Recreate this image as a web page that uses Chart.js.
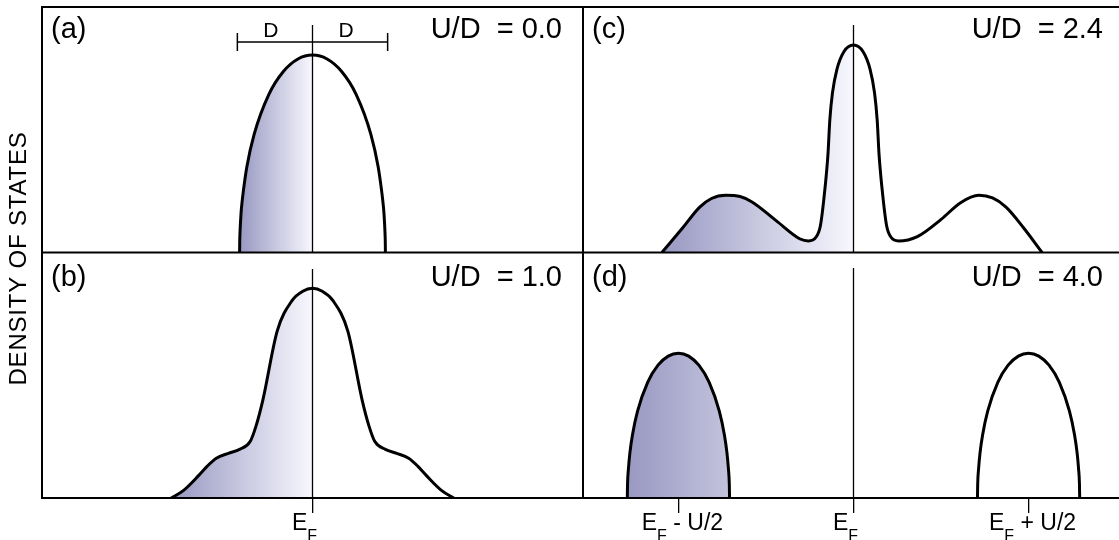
<!DOCTYPE html>
<html>
<head>
<meta charset="utf-8">
<title>Density of states</title>
<script src="https://cdn.jsdelivr.net/npm/chart.js@4.4.1/dist/chart.umd.min.js"></script>
<style>
  html, body { margin: 0; padding: 0; background: #fff; overflow: hidden; }
  #wrap { width: 1124px; height: 540px; }
</style>
</head>
<body>
<div id="wrap"><canvas id="dos" width="1124" height="540"></canvas></div>
<script>
// Energies in units of D measured from E_F, DOS in arbitrary units
const panelTags = ['(a)', '(b)', '(c)', '(d)'];
const ratioLabels = ['U/D  = 0.0', 'U/D  = 1.0', 'U/D  = 2.4', 'U/D  = 4.0'];

const energyA = [-0.97, -0.969, -0.965, -0.951, -0.941, -0.92, -0.873, -0.776, -0.582, -0.388, -0.194, 0,
                 0.194, 0.388, 0.582, 0.776, 0.873, 0.92, 0.941, 0.951, 0.965, 0.969, 0.97];
const dosA = [0, 0.36, 0.8, 1.6, 1.95, 2.51, 3.5, 4.82, 6.43, 7.37, 7.88, 8.04,
              7.88, 7.37, 6.43, 4.82, 3.5, 2.51, 1.95, 1.6, 0.8, 0.36, 0];

const energyB = [-1.88, -1.72, -1.52, -1.4, -1.28, -1.12, -0.97, -0.83, -0.75, -0.66, -0.47, -0.27, -0.13, 0,
                 0.13, 0.27, 0.47, 0.66, 0.75, 0.83, 0.97, 1.12, 1.28, 1.4, 1.52, 1.72, 1.88];
const dosB = [0, 0.3, 0.9, 1.3, 1.62, 1.82, 1.98, 2.3, 2.95, 4.0, 6.8, 8.05, 8.42, 8.54,
              8.42, 8.05, 6.8, 4.0, 2.95, 2.3, 1.98, 1.82, 1.62, 1.3, 0.9, 0.3, 0];

const energyC = [-2.55, -2.27, -2.05, -1.89, -1.70, -1.51, -1.35, -1.03, -0.71, -0.6, -0.5, -0.44, -0.38, -0.34, -0.315, -0.28, -0.22, -0.13, 0,
                 0.13, 0.22, 0.28, 0.315, 0.34, 0.38, 0.44, 0.5, 0.6, 0.85, 1.17, 1.42, 1.67, 1.85, 2.03, 2.26, 2.51];
const dosC = [0, 1.02, 1.84, 2.2, 2.33, 2.28, 2.06, 1.3, 0.55, 0.47, 0.62, 1.1, 2.6, 4.0, 5.4, 6.5, 7.47, 8.17, 8.45,
              8.17, 7.47, 6.5, 5.4, 4.0, 2.6, 1.1, 0.62, 0.47, 0.65, 1.36, 2.02, 2.33, 2.22, 1.85, 1.02, 0];

const energyDLower = [-3.01, -3.009, -3.007, -2.996, -2.976, -2.942, -2.874, -2.738, -2.602, -2.466, -2.33,
                      -2.194, -2.058, -1.922, -1.786, -1.718, -1.684, -1.664, -1.653, -1.651, -1.65];
const energyDUpper = [1.65, 1.651, 1.653, 1.664, 1.684, 1.718, 1.786, 1.922, 2.058, 2.194, 2.33,
                      2.466, 2.602, 2.738, 2.874, 2.942, 2.976, 2.996, 3.007, 3.009, 3.01];
const dosD = [0, 0.26, 0.59, 1.17, 1.84, 2.57, 3.54, 4.72, 5.41, 5.78, 5.9,
              5.78, 5.41, 4.72, 3.54, 2.57, 1.84, 1.17, 0.59, 0.26, 0];

// height of the E_F marker line in each panel
const fermiLineTop = [9.27, 9.33, 9.27, 9.37];

// bandwidth bracket in panel (a): from -D to +D
const bracketEnds = [-1, 1];
const bracketLevel = 8.57;
const bracketCap = [8.21, 8.94];

const tickValuesLeft = [0];
const tickLabelsLeft = [['E', 'F', '']];
const tickValuesRight = [-2.33, 0, 2.33];
const tickLabelsRight = [['E', 'F', ' - U/2'], ['E', 'F', ''], ['E', 'F', ' + U/2']];

const FONT = "'Liberation Sans', Arial, Helvetica, sans-serif";

const toPoints = (xs, ys) => xs.map((x, i) => ({ x: x, y: ys[i] }));

// shading runs from the band edge to E_F and stops there
function bandFill(chart, xId, edge) {
    const scale = chart.scales[xId];
    if (!scale || !chart.chartArea) return 'transparent';
    const x0 = scale.getPixelForValue(edge);
    const x1 = scale.getPixelForValue(0);
    const g = chart.ctx.createLinearGradient(x0, 0, x1, 0);
    g.addColorStop(0, '#9898c2');
    g.addColorStop(0.995, '#f7f7fe');
    g.addColorStop(1, 'rgba(255,255,255,0)');
    return g;
}

function curve(xs, ys, xId, yId, edge) {
    return {
        data: toPoints(xs, ys),
        xAxisID: xId,
        yAxisID: yId,
        borderColor: '#000',
        borderWidth: 3,
        borderJoinStyle: 'round',
        cubicInterpolationMode: 'monotone',
        fill: 'origin',
        backgroundColor: c => bandFill(c.chart, xId, edge),
        order: 1
    };
}

function thinLine(points, xId, yId, width) {
    return {
        data: points,
        xAxisID: xId,
        yAxisID: yId,
        borderColor: '#000',
        borderWidth: width,
        fill: false,
        order: 0
    };
}

const datasets = [
    thinLine([{ x: 0, y: 0 }, { x: 0, y: fermiLineTop[0] }], 'xL', 'yTop', 1.3),
    thinLine([{ x: 0, y: 0 }, { x: 0, y: fermiLineTop[1] }], 'xL', 'yBot', 1.3),
    thinLine([{ x: 0, y: 0 }, { x: 0, y: fermiLineTop[2] }], 'xR', 'yTop', 1.3),
    thinLine([{ x: 0, y: 0 }, { x: 0, y: fermiLineTop[3] }], 'xR', 'yBot', 1.3),
    thinLine(bracketEnds.map(x => ({ x: x, y: bracketLevel })), 'xL', 'yTop', 1.5),
    thinLine(bracketCap.map(y => ({ x: bracketEnds[0], y: y })), 'xL', 'yTop', 1.5),
    thinLine(bracketCap.map(y => ({ x: bracketEnds[1], y: y })), 'xL', 'yTop', 1.5),
    curve(energyA, dosA, 'xL', 'yTop', energyA[0]),
    curve(energyB, dosB, 'xL', 'yBot', energyB[0]),
    curve(energyC, dosC, 'xR', 'yTop', energyC[0]),
    curve(energyDLower, dosD, 'xR', 'yBot', energyDLower[0]),
    curve(energyDUpper, dosD, 'xR', 'yBot', energyDLower[0])
];

function energyAxis(weight, values) {
    return {
        type: 'linear',
        position: 'bottom',
        stack: 'energy',
        stackWeight: 1,
        weight: weight,
        min: -3.6,
        max: 3.6,
        afterFit: s => { s.height = 42; },
        afterBuildTicks: s => { s.ticks = values.map(v => ({ value: v })); },
        ticks: { display: false },
        grid: { display: true, drawOnChartArea: false, drawTicks: true, tickLength: 15, color: '#000', lineWidth: 1.3 },
        border: { display: false }
    };
}

function dosAxis(weight) {
    return {
        type: 'linear',
        position: 'left',
        stack: 'dos',
        stackWeight: 1,
        weight: weight,
        min: 0,
        max: 10,
        afterFit: s => { s.width = 42; },
        ticks: { display: false },
        grid: { display: false },
        border: { display: false }
    };
}

// E with a subscript F, plus the trailing part of the label
function drawFermiLabel(ctx, parts, cx, baseline) {
    const mainFont = '23px ' + FONT;
    const subFont = '16px ' + FONT;
    ctx.font = mainFont;
    const w0 = ctx.measureText(parts[0]).width;
    const w2 = ctx.measureText(parts[2]).width;
    ctx.font = subFont;
    const w1 = ctx.measureText(parts[1]).width;
    let x = cx - (w0 + w1 + w2) / 2 + (parts[2] ? 4 : -8);
    ctx.textAlign = 'left';
    ctx.font = mainFont;
    ctx.fillText(parts[0], x, baseline);
    x += w0;
    ctx.font = subFont;
    ctx.fillText(parts[1], x, baseline + 11);
    x += w1;
    ctx.font = mainFont;
    ctx.fillText(parts[2], x, baseline);
}

const frameAndText = {
    id: 'frameAndText',
    afterDraw(chart) {
        const ctx = chart.ctx;
        const { xL, xR, yTop, yBot } = chart.scales;
        ctx.save();

        // panel frame
        ctx.strokeStyle = '#000';
        ctx.lineWidth = 2;
        ctx.beginPath();
        [yTop.top, yTop.bottom, yBot.bottom].forEach(y => {
            ctx.moveTo(xL.left - 1, y);
            ctx.lineTo(xR.right, y);
        });
        [xL.left, xR.left].forEach(x => {
            ctx.moveTo(x, yTop.top);
            ctx.lineTo(x, yBot.bottom);
        });
        ctx.stroke();

        // panel tags and U/D values
        ctx.fillStyle = '#000';
        ctx.textBaseline = 'alphabetic';
        ctx.font = '29px ' + FONT;
        const panels = [[xL, yTop], [xL, yBot], [xR, yTop], [xR, yBot]];
        panels.forEach(([xs, ys], i) => {
            const base = ys.top + (i % 2 ? 33.5 : 31);
            ctx.textAlign = 'left';
            ctx.fillText(panelTags[i], xs.left + 9, base);
            ctx.textAlign = 'right';
            ctx.fillText(ratioLabels[i], xs.right - 21, base);
        });

        // D labels over the bracket halves
        ctx.font = '21px ' + FONT;
        ctx.textAlign = 'center';
        const mid0 = (xL.getPixelForValue(bracketEnds[0]) + xL.getPixelForValue(0)) / 2;
        const mid1 = (xL.getPixelForValue(0) + xL.getPixelForValue(bracketEnds[1])) / 2;
        ctx.fillText('D', mid0 - 4, yTop.top + 30);
        ctx.fillText('D', mid1 - 4, yTop.top + 30);

        // energy labels under the tick marks
        ctx.textAlign = 'left';
        tickValuesLeft.forEach((v, i) => {
            drawFermiLabel(ctx, tickLabelsLeft[i], xL.getPixelForValue(v), yBot.bottom + 32);
        });
        tickValuesRight.forEach((v, i) => {
            drawFermiLabel(ctx, tickLabelsRight[i], xR.getPixelForValue(v), yBot.bottom + 32);
        });

        // vertical axis title
        ctx.font = '24px ' + FONT;
        ctx.letterSpacing = '0.8px';
        ctx.textAlign = 'center';
        ctx.translate(26, (yTop.top + yBot.bottom) / 2 + 6);
        ctx.rotate(-Math.PI / 2);
        ctx.fillText('DENSITY OF STATES', 0, 0);
        ctx.restore();
    }
};

new Chart(document.getElementById('dos'), {
    type: 'line',
    data: { datasets: datasets },
    options: {
        responsive: false,
        animation: false,
        devicePixelRatio: 1,
        events: [],
        layout: { padding: { top: 7, left: 0, right: 0, bottom: 0 } },
        plugins: { legend: { display: false }, tooltip: { enabled: false } },
        elements: { point: { radius: 0 } },
        scales: {
            xL: energyAxis(0, tickValuesLeft),
            xR: energyAxis(1, tickValuesRight),
            yTop: dosAxis(1),
            yBot: dosAxis(0)
        }
    },
    plugins: [frameAndText]
});
</script>
</body>
</html>
